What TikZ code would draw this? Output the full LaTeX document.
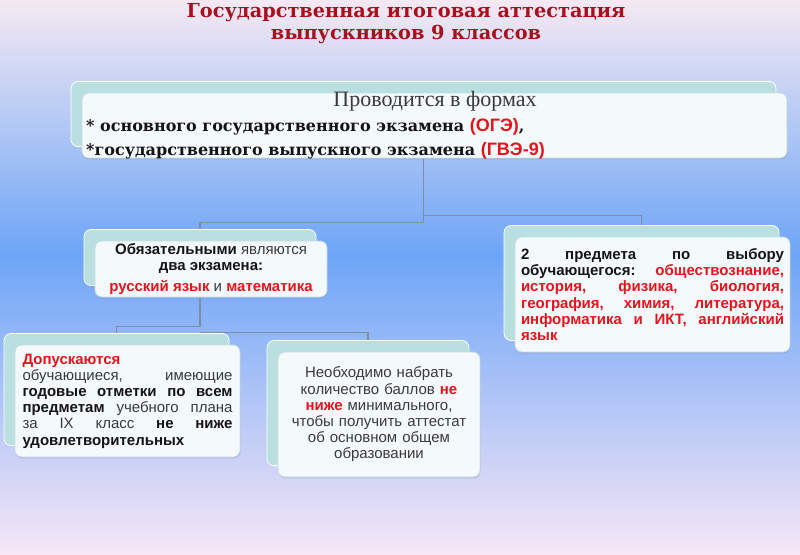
\documentclass[tikz,border=0pt]{standalone}
\usepackage{fontspec}
\setmainfont{Liberation Serif}
\setsansfont{Liberation Sans}
\newfontfamily\slabfont{DejaVu Serif}
\usepackage{xcolor}
\definecolor{cTitle}{HTML}{A8101E}
\definecolor{cRed}{HTML}{E2141C}
\definecolor{cInk}{HTML}{141414}
\definecolor{cSoft}{HTML}{3A3A3A}
\definecolor{cBack}{HTML}{BADFE0}
\definecolor{cFront}{HTML}{F4F9FC}
\definecolor{cEdge}{HTML}{C6DAE4}
\definecolor{cLink}{HTML}{7C8EA6}
\definecolor{cSkyTop}{HTML}{F5E9F3}
\definecolor{cSkyMid}{HTML}{6DA5F7}
\definecolor{cSkyBot}{HTML}{F7E7F6}
\usepackage{tikz}
\usetikzlibrary{shadows,backgrounds}
\tikzset{
  card/.style={rounded corners=7pt,fill=cFront,draw=cEdge,line width=0.8pt,
    copy shadow={shadow xshift=-11pt,shadow yshift=11.5pt,fill=cBack,
      draw=white,line width=0.8pt},
    drop shadow={shadow xshift=0.6pt,shadow yshift=-1.4pt,opacity=0.35,
      fill=cLink},
    inner sep=0pt},
  card-text/.style={font=\sffamily\fontsize{15}{16.2}\selectfont,
    text=cSoft},
  card-bold/.style={font=\sffamily\bfseries\fontsize{15}{16.2}\selectfont,
    text=cInk},
  form-line/.style={font=\slabfont\bfseries\fontsize{16}{16}\selectfont,
    text=cInk,anchor=west,inner sep=0pt},
  title-text/.style={font=\slabfont\bfseries\fontsize{19.3}{22}\selectfont,
    text=cTitle,align=center},
  link/.style={draw=cLink,line width=1.3pt},
}
\newcommand{\redbf}[1]{\textcolor{cRed}{\bfseries #1}}
\newcommand{\inkbf}[1]{\textcolor{cInk}{\bfseries #1}}
\newcommand{\abbr}[1]{\textcolor{cRed}{\sffamily\fontsize{18}{18}\selectfont #1}}

\begin{document}
\begin{tikzpicture}[x=1pt,y=-1pt]
  \useasboundingbox (0,0) rectangle (800,554);
  \node[title-text] (title) at (406,24)
    {Государственная итоговая аттестация\\выпускников 9 классов};

  % top card
  \node[card,minimum width=705pt,minimum height=65pt] (forms) at (434.5,125.5) {};
  \node[font=\fontsize{22}{22}\selectfont,text=cSoft] (forms-head) at (435,101)
    {Проводится в формах};
  \node[form-line] (forms-oge) at (86,127)
    {* основного государственного экзамена \abbr{(ОГЭ)},};
  \node[form-line] (forms-gve) at (86,151)
    {*государственного выпускного экзамена \abbr{(ГВЭ-9)}};

  % second row
  \node[card,card-text,align=center,minimum width=232pt,minimum height=56pt]
    (must) at (211,269)
    {\inkbf{Обязательными} являются\\\inkbf{два экзамена:}\\[4pt]
     \redbf{русский язык} и \redbf{математика}};
  \node[card,card-bold,text width=263pt,align=justify,
    minimum width=275pt,minimum height=115pt] (choice) at (652.5,294.5)
    {2 предмета по выбору\linebreak обучающегося: \textcolor{cRed}{обществознание,\linebreak
     история, физика, биология,\linebreak география, химия, литература,\linebreak
     информатика и ИКТ, английский\linebreak язык}};

  % third row
  \node[card,card-text,text width=210pt,align=justify,
    minimum width=225pt,minimum height=112pt] (admit) at (127.5,401)
    {\redbf{Допускаются}\\обучающиеся, имеющие\linebreak
     \inkbf{годовые отметки по всем\linebreak предметам} учебного плана\linebreak
     за IX класс \inkbf{не ниже\linebreak удовлетворительных}};
  \node[card,card-text,text width=195pt,align=center,
    minimum width=202pt,minimum height=125pt] (score) at (379,414.5)
    {Необходимо набрать\\количество баллов \redbf{не}\\\redbf{ниже} минимального,\\
     чтобы получить аттестат\\об основном общем\\образовании};

  \begin{scope}[on background layer]
    \shade[top color=cSkyTop,bottom color=cSkyMid] (0,0) rectangle (800,255);
    \shade[top color=cSkyMid,bottom color=cSkyBot] (0,255) rectangle (800,554);
    \draw[link] ([xshift=-11pt]forms.south) -- ++(0,64) -| ([xshift=-11pt]must.north);
    \draw[link] ([xshift=-11pt]forms.south) ++(0,57) -| ([xshift=-11pt]choice.north);
    \draw[link] ([xshift=-11pt]must.south) -- ++(0,29) -| ([xshift=-11pt]admit.north);
    \draw[link] ([xshift=-11pt]must.south) ++(0,35) -| ([xshift=-11pt]score.north);
  \end{scope}
\end{tikzpicture}
\end{document}
